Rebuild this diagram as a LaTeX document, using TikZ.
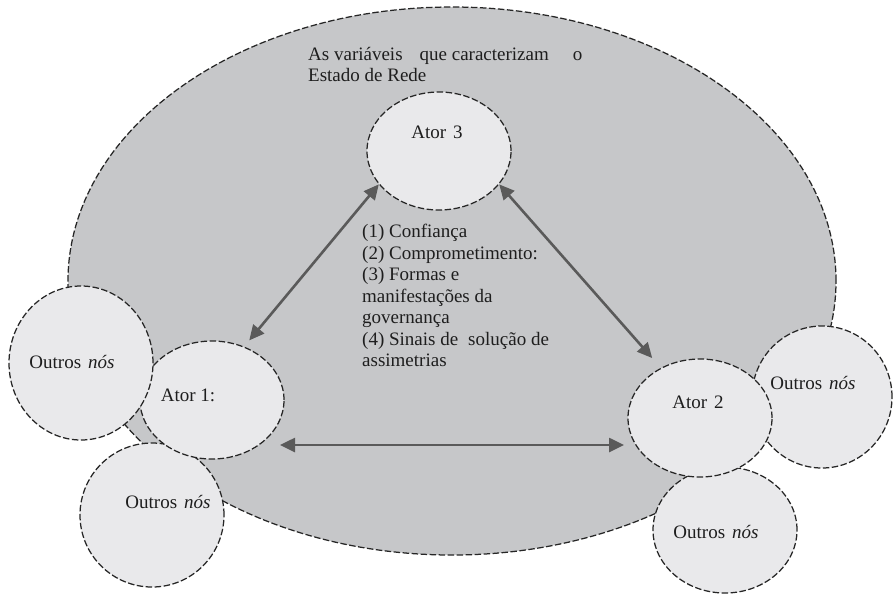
\documentclass[tikz,border=0pt]{standalone}
\usepackage{fontspec}
\setmainfont{Liberation Serif}
\usetikzlibrary{shapes.geometric,arrows.meta,calc}
\definecolor{bigfill}{HTML}{C6C7C9}
\definecolor{smallfill}{HTML}{E9E9EB}
\definecolor{arrowc}{HTML}{5A5A5A}
\definecolor{txtc}{HTML}{1E1E1E}
\tikzset{
  dashborder/.style={draw=black!85, line width=1.25pt, dash pattern=on 6.5pt off 2.5pt},
  bigell/.style={ellipse, dashborder, fill=bigfill, inner sep=0pt},
  circ/.style={ellipse, dashborder, fill=smallfill, inner sep=0pt},
  txt/.style={text=txtc, font=\fontsize{19}{21.5}\selectfont, inner sep=0pt},
  arr/.style={draw=arrowc, line width=2.6pt, {Triangle[length=15pt,width=14pt]}-{Triangle[length=15pt,width=14pt]}}
}
\begin{document}
\begin{tikzpicture}[x=1pt,y=-1pt]
\useasboundingbox (0,0) rectangle (893,595);
\fill[white] (0,0) rectangle (893,595);
% network
\node[bigell, minimum width=768pt, minimum height=548pt] (rede) at (452,281) {};
% right side: other nodes below actor 2
\node[circ, minimum width=140pt, minimum height=142pt] (o3) at (822,397) {};
\node[circ, minimum width=144pt, minimum height=126pt] (o4) at (725,530) {};
\node[circ, minimum width=144pt, minimum height=118pt] (a2) at (700,418) {};
% top actor
\node[circ, minimum width=144pt, minimum height=118pt] (a3) at (439,151) {};
% left side: other nodes above actor 1
\node[circ, minimum width=144pt, minimum height=144pt] (o2) at (152,515) {};
\node[circ, minimum width=144pt, minimum height=118pt] (a1) at (212,400) {};
\node[circ, minimum width=144pt, minimum height=154pt] (o1) at (81,363) {};
% labels
\node[txt, anchor=north west, align=left] (title) at (308,47)
  {As variáveis\hspace{17pt}que caracterizam\hspace{24pt}o\\Estado de Rede};
\node[txt] (t3) at ($(a3)+(-2,-19)$) {Ator\hspace{7pt}3};
\node[txt] (t1) at ($(a1)+(-24,-5)$) {Ator 1:};
\node[txt] (t2) at ($(a2)+(-2,-16)$) {Ator\hspace{7pt}2};
\node[txt] (to1) at ($(o1)+(-9,-1)$) {Outros\hspace{7pt}\textit{nós}};
\node[txt] (to2) at ($(o2)+(16,-13)$) {Outros\hspace{7pt}\textit{nós}};
\node[txt] (to3) at ($(o3)+(-9,-14)$) {Outros\hspace{7pt}\textit{nós}};
\node[txt] (to4) at ($(o4)+(-9,2)$) {Outros\hspace{7pt}\textit{nós}};
\node[txt, anchor=north west, align=left] (list) at (362,224)
  {(1) Confiança\\(2) Comprometimento:\\(3) Formas e\\manifestações da\\governança\\(4) Sinais de\hspace{10pt}solução de\\assimetrias};
% connectors
\draw[arr, shorten >=8pt] (a3.209.5) -- (a1.59);
\draw[arr, shorten >=13pt] (a3.331) -- (a2.128.7);
\draw[arr] ($(a1)+(68,45)$) -- ($(a2)+(-76,27)$);
\end{tikzpicture}
\end{document}
